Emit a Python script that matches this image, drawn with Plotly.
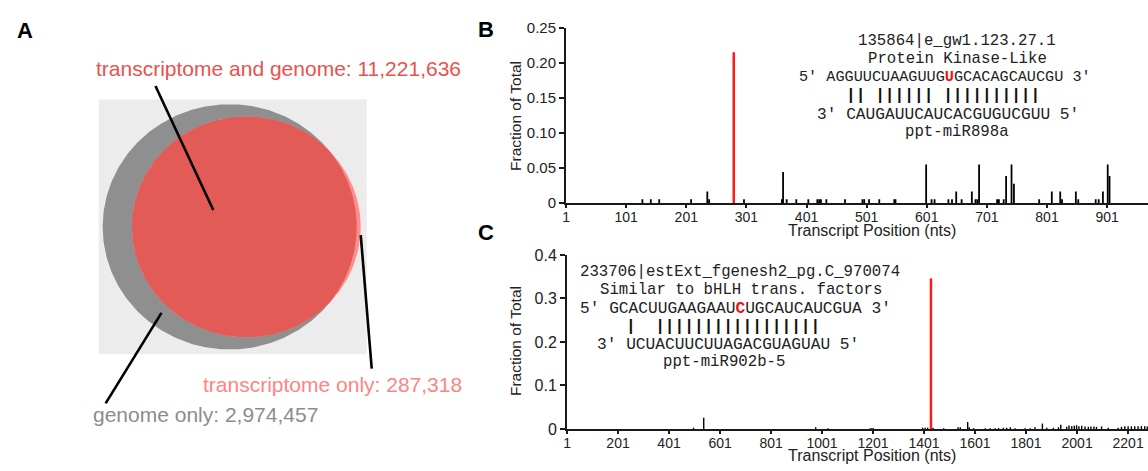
import numpy as np
import plotly.graph_objects as go

# ---------------- data ----------------
GENOME_ONLY = 2974457
BOTH = 11221636
TRANSCRIPTOME_ONLY = 287318

# Panel B: fraction of degradome reads by transcript position
b_pos = [128, 142, 156, 209, 236, 239, 297, 360, 362, 368, 384, 404, 419, 422, 425,
         434, 465, 494, 497, 505, 522, 547, 549, 600, 609, 614, 637, 643, 650, 659,
         676, 682, 685, 688, 718, 721, 729, 733, 742, 746, 788, 809, 823, 826, 849,
         853, 882, 887, 894, 902, 905]
b_val = [0.0055, 0.0055, 0.0055, 0.0055, 0.0166, 0.0055, 0.0055, 0.0055, 0.0442, 0.0055,
         0.0055, 0.0055, 0.0055, 0.0055, 0.0055, 0.0055, 0.0055, 0.0055, 0.0055, 0.0055,
         0.0055, 0.0055, 0.0055, 0.0552, 0.0055, 0.0055, 0.0055, 0.0055, 0.0166, 0.0055,
         0.0166, 0.0055, 0.0055, 0.0552, 0.0055, 0.0055, 0.0055, 0.0387, 0.0552, 0.0276,
         0.0055, 0.0166, 0.0166, 0.0055, 0.0166, 0.0055, 0.0055, 0.0055, 0.0166, 0.0552,
         0.0387]
b_peak_pos = 280
b_peak_val = 0.2155
b_ticks = [1, 101, 201, 301, 401, 501, 601, 701, 801, 901]
b_yticks = [0, 0.05, 0.10, 0.15, 0.20, 0.25]
b_yticklabels = ["0", "0.05", "0.10", "0.15", "0.20", "0.25"]

# Panel C
c_pos = [497, 537, 976, 1024, 1190, 1196, 1202, 1395, 1405, 1415, 1436, 1478, 1534,
         1543, 1572, 1578, 1595, 1641, 1660, 1680, 1693, 1712, 1725, 1739, 1758, 1797,
         1817, 1836, 1865, 1882, 1908, 1928, 1937, 1960, 1969, 1980, 1990, 1999, 2008,
         2019, 2032, 2045, 2055, 2067, 2077, 2097, 2123, 2162, 2175, 2188, 2201, 2214,
         2227, 2240, 2253, 2266, 2276]
c_val = [0.003, 0.026, 0.004, 0.002, 0.002, 0.002, 0.002, 0.003, 0.003, 0.003, 0.003,
         0.002, 0.004, 0.004, 0.016, 0.004, 0.002, 0.002, 0.002, 0.002, 0.002, 0.003,
         0.003, 0.004, 0.002, 0.002, 0.002, 0.004, 0.0125, 0.003, 0.003, 0.004, 0.0096,
         0.005, 0.008, 0.0066, 0.0074, 0.0088, 0.0066, 0.0074, 0.006, 0.005, 0.006, 0.006,
         0.005, 0.006, 0.003, 0.003, 0.005, 0.0066, 0.0066, 0.006, 0.0066, 0.0066, 0.0066,
         0.0066, 0.006]
c_peak_pos = 1428
c_peak_val = 0.346
c_ticks = [1, 201, 401, 601, 801, 1001, 1201, 1401, 1601, 1801, 2001, 2201]
c_yticks = [0, 0.1, 0.2, 0.3, 0.4]
c_yticklabels = ["0", "0.1", "0.2", "0.3", "0.4"]

# alignment notes
b_head = ["135864|e_gw1.123.27.1", "Protein Kinase-Like"]
b_target = "AGGUUCUAAGUUGUGCACAGCAUCGU"
b_mark = 13
b_pairs = "|| |||||| ||||||||||"
b_mirna = "CAUGAUUCAUCACGUGUCGUU"
b_name = "ppt-miR898a"

c_head = ["233706|estExt_fgenesh2_pg.C_970074", "Similar to bHLH trans. factors"]
c_target = "GCACUUGAAGAAUCUGCAUCAUCGUA"
c_mark = 13
c_pairs = "|  |||||||||||||||||"
c_mirna = "UCUACUUCUUAGACGUAGUAU"
c_name = "ppt-miR902b-5"

# ---------------- helpers ----------------
W, H = 1148, 471
def px(x):
    return x / W
def py(y):
    return 1 - y / H

SANS = "Liberation Sans, Arial, sans-serif"
MONO = "Liberation Mono, Courier New, monospace"
NOTE = "#222"

def spikes(pos, val):
    xs, ys = [], []
    for p, v in zip(pos, val):
        xs += [p, p, None]
        ys += [0, v, None]
    return xs, ys

fig = go.Figure()

# ---------------- Panel A: Venn (radii from set sizes) ----------------
G = GENOME_ONLY + BOTH
T = TRANSCRIPTOME_ONLY + BOTH
r_g = np.sqrt(G / np.pi)
r_t = np.sqrt(T / np.pi)

s = r_g / 127.5          # data units per pixel
cx_px, cy_px = 226.5, 226.5
d = (r_g - r_t) + 4.0 * s   # transcriptome circle pokes slightly out on the right

th = np.linspace(0, 2 * np.pi, 400)
fig.add_trace(go.Scatter(x=r_g * np.cos(th), y=r_g * np.sin(th), fill="toself",
                         fillcolor="#8f8f8f", line=dict(width=0), mode="lines",
                         xaxis="x3", yaxis="y3", hoverinfo="skip"))
fig.add_trace(go.Scatter(x=d + r_t * np.cos(th), y=r_t * np.sin(th), fill="toself",
                         fillcolor="#ff8f8c", line=dict(width=0), mode="lines",
                         xaxis="x3", yaxis="y3", hoverinfo="skip"))
xi = (d * d + r_g * r_g - r_t * r_t) / (2 * d)
yi = np.sqrt(max(r_g * r_g - xi * xi, 0))
tg = np.arctan2(yi, xi)
tt = np.arctan2(yi, xi - d)
a1 = np.linspace(-tg, tg, 200)
a2 = np.linspace(tt, 2 * np.pi - tt, 400)
lx = np.concatenate([r_g * np.cos(a1), d + r_t * np.cos(a2)])
ly = np.concatenate([r_g * np.sin(a1), r_t * np.sin(a2)])
fig.add_trace(go.Scatter(x=lx, y=ly, fill="toself", fillcolor="#e25b56",
                         line=dict(width=0), mode="lines",
                         xaxis="x3", yaxis="y3", hoverinfo="skip"))

shapes = [dict(type="rect", xref="x3", yref="y3", layer="below",
               x0=-131.5 * s, x1=137.5 * s, y0=-132.5 * s, y1=132.5 * s,
               fillcolor="#ececec", line=dict(width=0))]
for (x0, y0, x1, y1) in [(152, 80, 210, 209), (158, 316, 102, 410), (358, 235, 369, 374)]:
    shapes.append(dict(type="line", xref="paper", yref="paper",
                       x0=px(x0), y0=py(y0), x1=px(x1), y1=py(y1),
                       line=dict(color="black", width=2.6)))

annotations = []
def ann(text, x, y, size, color="#222", family=SANS, **kw):
    d_ = dict(text=text, x=px(x), y=py(y), xref="paper", yref="paper",
              showarrow=False, xanchor="center", yanchor="middle",
              font=dict(size=size, color=color, family=family))
    d_.update(kw)
    annotations.append(d_)

ann(f"transcriptome and genome: {BOTH:,}", 275, 62, 21, "#e8524e")
ann(f"transcriptome only: {TRANSCRIPTOME_ONLY:,}", 330, 390, 21, "#ff8482")
ann(f"genome only: {GENOME_ONLY:,}", 202, 422, 21, "#8c8c8c")

ann("<b>A</b>", 21, 22, 22, "black")
ann("<b>B</b>", 484, 21, 22, "black")
ann("<b>C</b>", 484, 232, 22, "black")

# ---------------- Panels B and C ----------------
bx, by = spikes(b_pos, b_val)
fig.add_trace(go.Scatter(x=bx, y=by, mode="lines", line=dict(color="black", width=1.8),
                         xaxis="x", yaxis="y", hoverinfo="skip"))
rx, ry = spikes([b_peak_pos], [b_peak_val])
fig.add_trace(go.Scatter(x=rx, y=ry, mode="lines", line=dict(color="#ff1a1a", width=2.5),
                         xaxis="x", yaxis="y", hoverinfo="skip"))

cxs, cys = spikes(c_pos, c_val)
fig.add_trace(go.Scatter(x=cxs, y=cys, mode="lines", line=dict(color="black", width=1.4),
                         xaxis="x2", yaxis="y2", hoverinfo="skip"))
rx2, ry2 = spikes([c_peak_pos], [c_peak_val])
fig.add_trace(go.Scatter(x=rx2, y=ry2, mode="lines", line=dict(color="#ff1a1a", width=2.5),
                         xaxis="x2", yaxis="y2", hoverinfo="skip"))

def xaxis_cfg(dom, rng, ticks):
    return dict(domain=dom, range=rng, tickvals=ticks, ticktext=[str(t) for t in ticks],
                showline=True, linecolor="#1a1a1a", linewidth=2, ticks="outside",
                ticklen=3, tickwidth=1.5, tickcolor="#1a1a1a", showgrid=False,
                zeroline=False, tickfont=dict(size=14, family=SANS, color="#222"),
                ticklabelstandoff=-3, fixedrange=True)

def yaxis_cfg(dom, rng, ticks, labels, anchor, size):
    return dict(domain=dom, range=rng, tickvals=ticks, ticktext=labels, anchor=anchor,
                showline=True, linecolor="#1a1a1a", linewidth=2, ticks="outside",
                ticklen=5, tickwidth=1.5, tickcolor="#1a1a1a", showgrid=False,
                zeroline=False, tickfont=dict(size=size, family=SANS, color="#222"),
                fixedrange=True)

ann("Transcript Position (nts)", 871, 230, 16)
ann("Transcript Position (nts)", 871, 464, 16)
ann("Fraction of Total", 514, 111, 15.5, textangle=-90)
ann("Fraction of Total", 514, 345, 15.5, textangle=-90)

def note(head, target, mark, pairs, mirna, name, xs, ys, seq_size):
    ann(head[0], xs[0], ys[0], 15.7, NOTE, MONO)
    ann(head[1].replace(" ", "\u00a0"), xs[1], ys[1], 15.7, NOTE, MONO)
    seq = (target[:mark] + "<b><span style='color:#ee1111'>" + target[mark] +
           "</span></b>" + target[mark + 1:])
    ann("5'\u00a0" + seq + "\u00a03'", xs[2], ys[2], seq_size, NOTE, MONO)
    ann("<b>" + pairs.replace(" ", "\u00a0") + "</b>", xs[3], ys[3], 16.2, "#111", MONO)
    ann("3'\u00a0" + mirna + "\u00a05'", xs[4], ys[4], 16.2, NOTE, MONO)
    ann(name, xs[5], ys[5], 15.7, NOTE, MONO)

note(b_head, b_target, b_mark, b_pairs, b_mirna, b_name,
     [956, 957, 944, 942, 947, 956], [33, 52, 71, 90, 110, 128], 15.2)
note(c_head, c_target, c_mark, c_pairs, c_mirna, c_name,
     [739, 740, 734, 722, 727, 723], [273, 292, 312, 331, 349, 367], 16.2)

fig.update_layout(
    width=W, height=H, margin=dict(l=0, r=0, t=0, b=0),
    paper_bgcolor="white", plot_bgcolor="rgba(0,0,0,0)", showlegend=False,
    xaxis=xaxis_cfg([px(564), 1.0], [1, 969], b_ticks),
    yaxis=yaxis_cfg([py(201.7), py(20)], [0, 0.25], b_yticks, b_yticklabels, "x", 15),
    xaxis2=xaxis_cfg([px(565), 1.0], [1, 2279], c_ticks) | dict(anchor="y2"),
    yaxis2=yaxis_cfg([py(436.7), py(255.7)], [0, 0.4], c_yticks, c_yticklabels, "x2", 16),
    xaxis3=dict(domain=[0, px(480)], range=[(0 - cx_px) * s, (480 - cx_px) * s],
                visible=False, fixedrange=True, anchor="y3"),
    yaxis3=dict(domain=[0, 1], range=[(cy_px - H) * s, cy_px * s],
                visible=False, fixedrange=True, anchor="x3"),
    shapes=shapes, annotations=annotations,
)

fig.write_html(
    "out.html",
    config={"displayModeBar": False},
    post_script=(
        "var gd=document.getElementById('{plot_id}');"
        "document.documentElement.style.margin='0';"
        "document.documentElement.style.padding='0';"
        "document.body.style.margin='0';"
        "document.body.style.padding='0';"
        "document.documentElement.style.overflow='hidden';"
        "document.body.style.overflow='hidden';"
        "gd.style.position='fixed';gd.style.left='0px';gd.style.top='0px';"
    ),
)
